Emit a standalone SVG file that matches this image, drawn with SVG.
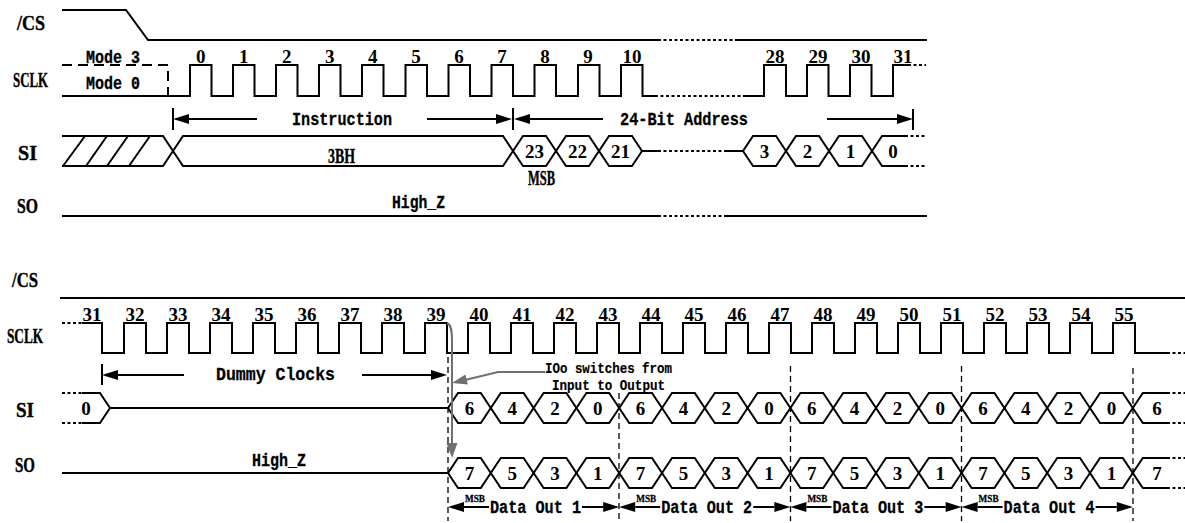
<svg xmlns="http://www.w3.org/2000/svg" xmlns:xlink="http://www.w3.org/1999/xlink" width="1185" height="523" viewBox="0 0 1185 523">
<style>
.w{fill:none;stroke:#000;stroke-width:2;stroke-linejoin:miter}
.dot{fill:none;stroke:#000;stroke-width:2;stroke-dasharray:3 2.5}
.dash{fill:none;stroke:#000;stroke-width:2;stroke-dasharray:10 6}
.vd{fill:none;stroke:#000;stroke-width:1.3;stroke-dasharray:6 4}
.gr{fill:none;stroke:#707070;stroke-width:2}
.lab{font-family:"Liberation Serif",serif;font-weight:bold;font-size:20px;stroke:#000;stroke-width:0.4}
.num{font-family:"Liberation Serif",serif;font-weight:bold;font-size:19px;text-anchor:middle}
.mono{font-family:"Liberation Mono",monospace;font-weight:bold;font-size:19px;stroke:#000;stroke-width:0.3}
.sm{font-family:"Liberation Mono",monospace;font-weight:bold;font-size:15px;stroke:#000;stroke-width:0.2}
.msb{font-family:"Liberation Serif",serif;font-weight:bold;font-size:11px;text-anchor:middle;stroke:#000;stroke-width:0.3}
</style>
<defs>
<path id="aL" d="M0,0 L16,-5 L16,5 Z" fill="#000"/>
<path id="aR" d="M0,0 L-16,-5 L-16,5 Z" fill="#000"/>
<g id="bus">
<polyline class="w" points="448,408 458,393 480.8,393 500.8,423 523.6,423 543.6,393 566.4,393 586.4,423 609.2,423 629.2,393 652,393 672,423 694.8,423 714.8,393 737.6,393 757.6,423 780.4,423 800.4,393 823.2,393 843.2,423 866,423 886,393 908.8,393 928.8,423 951.6,423 971.6,393 994.4,393 1014.4,423 1037.2,423 1057.2,393 1080,393 1100,423 1122.8,423 1142.8,393 1167,393"/>
<polyline class="w" points="448,408 458,423 480.8,423 500.8,393 523.6,393 543.6,423 566.4,423 586.4,393 609.2,393 629.2,423 652,423 672,393 694.8,393 714.8,423 737.6,423 757.6,393 780.4,393 800.4,423 823.2,423 843.2,393 866,393 886,423 908.8,423 928.8,393 951.6,393 971.6,423 994.4,423 1014.4,393 1037.2,393 1057.2,423 1080,423 1100,393 1122.8,393 1142.8,423 1167,423"/>
<path class="dot" d="M1167,393 H1185 M1167,423 H1185"/>
</g>
</defs>

<!-- ===== TOP SECTION ===== -->
<g id="top-labels">
<text class="lab" x="17" y="30" textLength="28" lengthAdjust="spacingAndGlyphs">/CS</text>
<text class="lab" x="13" y="87" textLength="35" lengthAdjust="spacingAndGlyphs">SCLK</text>
<text class="lab" x="18" y="160" textLength="19" lengthAdjust="spacingAndGlyphs">SI</text>
<text class="lab" x="17" y="213" textLength="21" lengthAdjust="spacingAndGlyphs">SO</text>
</g>

<g id="top-cs">
<polyline class="w" points="62,10 126,10 148,40 658,40"/>
<path class="dot" d="M658,40 H735"/>
<path class="w" d="M735,40 H927"/>
</g>

<g id="top-sclk">
<path class="dash" d="M62,65 H168 V96"/>
<path class="w" d="M62,96 H190 V65 H211.5 V96 H233 V65 H254.5 V96 H276 V65 H297.5 V96 H319 V65 H340.5 V96 H362 V65 H383.5 V96 H405.5 V65 H427 V96 H448.5 V65 H470 V96 H491.5 V65 H513 V96 H534.5 V65 H556 V96 H578 V65 H599.5 V96 H621 V65 H642.5 V96 H655"/>
<path class="dot" d="M655,96 H743"/>
<path class="w" d="M743,96 H764 V65 H786 V96 H807 V65 H828.5 V96 H850 V65 H871.5 V96 H893 V65 H908"/>
<path class="dot" d="M908,65 H926"/>
<text class="mono" x="86" y="63" textLength="54" lengthAdjust="spacingAndGlyphs">Mode 3</text>
<text class="mono" x="86" y="89" textLength="54" lengthAdjust="spacingAndGlyphs">Mode 0</text>
<text class="num" x="200.75" y="63">0</text>
<text class="num" x="243.75" y="63">1</text>
<text class="num" x="286.75" y="63">2</text>
<text class="num" x="329.75" y="63">3</text>
<text class="num" x="372.75" y="63">4</text>
<text class="num" x="416" y="63">5</text>
<text class="num" x="459" y="63">6</text>
<text class="num" x="502" y="63">7</text>
<text class="num" x="545" y="63">8</text>
<text class="num" x="588" y="63">9</text>
<text class="num" x="632" y="63">10</text>
<text class="num" x="775" y="63">28</text>
<text class="num" x="818" y="63">29</text>
<text class="num" x="861" y="63">30</text>
<text class="num" x="903" y="63">31</text>
</g>

<g id="top-spans">
<path class="w" d="M173,108 V130 M513,108 V130 M913,109 V130 M189,119 H257 M427,119 H497 M529,119 H603 M827,119 H897"/>
<use xlink:href="#aL" x="173" y="119"/>
<use xlink:href="#aR" x="512" y="119"/>
<use xlink:href="#aL" x="514" y="119"/>
<use xlink:href="#aR" x="913" y="119"/>
<text class="mono" x="292" y="125" textLength="100" lengthAdjust="spacingAndGlyphs">Instruction</text>
<text class="mono" x="620" y="125" textLength="128" lengthAdjust="spacingAndGlyphs">24-Bit Address</text>
</g>

<g id="top-si">
<path class="w" d="M63,166 L85,136 M86,166 L107,136 M107,166 L128,136 M129,166 L150,136"/>
<polyline class="w" points="62,136 163,136 183,166 503,166 523,136 546,136 566,166 589,166 609,136 632,136 642,151 658,151"/>
<polyline class="w" points="62,166 163,166 183,136 503,136 523,166 546,166 566,136 589,136 609,166 632,166 642,151"/>
<path class="dot" d="M658,151 H727"/>
<polyline class="w" points="727,151 743,151 753,136 776,136 796,166 819,166 839,136 862,136 882,166 905,166"/>
<polyline class="w" points="743,151 753,166 776,166 796,136 819,136 839,166 862,166 882,136 905,136"/>
<path class="dot" d="M905,136 H926 M905,166 H926"/>
<text class="lab" x="328" y="163" font-size="19" textLength="27" lengthAdjust="spacingAndGlyphs">3BH</text>
<text class="num" x="534.5" y="158">23</text>
<text class="num" x="577.5" y="158">22</text>
<text class="num" x="620.5" y="158">21</text>
<text class="num" x="764.5" y="158">3</text>
<text class="num" x="807.5" y="158">2</text>
<text class="num" x="850.5" y="158">1</text>
<text class="num" x="893" y="158">0</text>
<text class="lab" x="528" y="185" font-size="16" textLength="27" lengthAdjust="spacingAndGlyphs">MSB</text>
</g>

<g id="top-so">
<path class="w" d="M62,216 H658 M727,216 H927"/>
<path class="dot" d="M658,216 H727"/>
<text class="mono" x="392" y="208" textLength="53" lengthAdjust="spacingAndGlyphs">High_Z</text>
</g>

<!-- ===== BOTTOM SECTION ===== -->
<g id="bot-labels">
<text class="lab" x="12" y="287" textLength="26" lengthAdjust="spacingAndGlyphs">/CS</text>
<text class="lab" x="7" y="343" textLength="36" lengthAdjust="spacingAndGlyphs">SCLK</text>
<text class="lab" x="16" y="417" textLength="18" lengthAdjust="spacingAndGlyphs">SI</text>
<text class="lab" x="15" y="472" textLength="20" lengthAdjust="spacingAndGlyphs">SO</text>
</g>

<g id="bot-cs">
<path class="w" d="M60,298 H1185"/>
</g>

<g id="bot-sclk">
<path class="dot" d="M62,323 H82"/>
<path class="w" d="M82,323 H102 V353 H124 V323 H146 V353 H167 V323 H189 V353 H210 V323 H232 V353 H253 V323 H275 V353 H296 V323 H318 V353 H339 V323 H361 V353 H382 V323 H404 V353 H425 V323 H447 V353 H468 V323 H490 V353 H511 V323 H533 V353 H554 V323 H576 V353 H597 V323 H619 V353 H640 V323 H662 V353 H683 V323 H705 V353 H726 V323 H748 V353 H769 V323 H791 V353 H812 V323 H834 V353 H855 V323 H877 V353 H898 V323 H920 V353 H941 V323 H963 V353 H984 V323 H1006 V353 H1027 V323 H1049 V353 H1070 V323 H1092 V353 H1113 V323 H1135 V353 H1167"/>
<path class="dot" d="M1167,353 H1185"/>
<text class="num" x="92" y="321">31</text>
<text class="num" x="135" y="321">32</text>
<text class="num" x="178" y="321">33</text>
<text class="num" x="221" y="321">34</text>
<text class="num" x="264" y="321">35</text>
<text class="num" x="307" y="321">36</text>
<text class="num" x="350" y="321">37</text>
<text class="num" x="393" y="321">38</text>
<text class="num" x="436" y="321">39</text>
<text class="num" x="479" y="321">40</text>
<text class="num" x="522" y="321">41</text>
<text class="num" x="565" y="321">42</text>
<text class="num" x="608" y="321">43</text>
<text class="num" x="651" y="321">44</text>
<text class="num" x="694" y="321">45</text>
<text class="num" x="737" y="321">46</text>
<text class="num" x="780" y="321">47</text>
<text class="num" x="823" y="321">48</text>
<text class="num" x="866" y="321">49</text>
<text class="num" x="909" y="321">50</text>
<text class="num" x="952" y="321">51</text>
<text class="num" x="995" y="321">52</text>
<text class="num" x="1038" y="321">53</text>
<text class="num" x="1081" y="321">54</text>
<text class="num" x="1124" y="321">55</text>
</g>

<g id="bot-dummy">
<path class="w" d="M102,364 V385 M118,375 H184 M362,375 H431"/>
<use xlink:href="#aL" x="102" y="375"/>
<use xlink:href="#aR" x="447" y="375"/>
<text class="mono" x="216" y="380" textLength="119" lengthAdjust="spacingAndGlyphs">Dummy  Clocks</text>
</g>

<g id="bot-guides">
<path class="vd" d="M448,357 V521 M619,393 V521 M790.5,366 V521 M961.5,366 V521 M1133,368 V521"/>
</g>

<g id="bot-si">
<path class="dot" d="M62,393 H82 M62,423 H82"/>
<polyline class="w" points="82,393 100,393 110,408 448,408"/>
<polyline class="w" points="82,423 100,423 110,408"/>
<use xlink:href="#bus"/>
<text class="num" x="86" y="415">0</text>
<g class="num">
<text x="469.4" y="415">6</text><text x="512.2" y="415">4</text><text x="555" y="415">2</text><text x="597.8" y="415">0</text>
<text x="640.6" y="415">6</text><text x="683.4" y="415">4</text><text x="726.2" y="415">2</text><text x="769" y="415">0</text>
<text x="811.8" y="415">6</text><text x="854.6" y="415">4</text><text x="897.4" y="415">2</text><text x="940.2" y="415">0</text>
<text x="983" y="415">6</text><text x="1025.8" y="415">4</text><text x="1068.6" y="415">2</text><text x="1111.4" y="415">0</text>
<text x="1157" y="415">6</text>
</g>
</g>

<g id="bot-so">
<path class="w" d="M62,473 H448"/>
<use xlink:href="#bus" y="65"/>
<text class="mono" x="252" y="466" textLength="54" lengthAdjust="spacingAndGlyphs">High_Z</text>
<g class="num">
<text x="469.4" y="480">7</text><text x="512.2" y="480">5</text><text x="555" y="480">3</text><text x="597.8" y="480">1</text>
<text x="640.6" y="480">7</text><text x="683.4" y="480">5</text><text x="726.2" y="480">3</text><text x="769" y="480">1</text>
<text x="811.8" y="480">7</text><text x="854.6" y="480">5</text><text x="897.4" y="480">3</text><text x="940.2" y="480">1</text>
<text x="983" y="480">7</text><text x="1025.8" y="480">5</text><text x="1068.6" y="480">3</text><text x="1111.4" y="480">1</text>
<text x="1157" y="480">7</text>
</g>
</g>

<g id="bot-switch-note">
<path class="gr" d="M447,323 C451,325 452,330 452,340 V444"/>
<path d="M446.5,443 L457.5,443 L452,458 Z" fill="#707070"/>
<path class="gr" d="M545,372 H498 L465,380"/>
<path d="M452,383 L467.8,384.4 L465.4,374.6 Z" fill="#707070"/>
<text class="sm" x="545" y="373" textLength="127" lengthAdjust="spacingAndGlyphs">IOo switches from</text>
<text class="sm" x="552" y="390" textLength="113" lengthAdjust="spacingAndGlyphs">Input to Output</text>
</g>

<g id="bot-dataout">
<path class="w" d="M464,507 H489 M582,507 H603.2 M635.2,507 H660.2 M753.2,507 H774.4 M806.4,507 H831.4 M924.4,507 H945.6 M977.6,507 H1002.6 M1095.6,507 H1116.8"/>
<use xlink:href="#aL" x="448" y="507"/>
<use xlink:href="#aR" x="619.2" y="507"/>
<use xlink:href="#aL" x="619.2" y="507"/>
<use xlink:href="#aR" x="790.4" y="507"/>
<use xlink:href="#aL" x="790.4" y="507"/>
<use xlink:href="#aR" x="961.6" y="507"/>
<use xlink:href="#aL" x="961.6" y="507"/>
<use xlink:href="#aR" x="1132.8" y="507"/>
<text class="msb" x="475" y="502" textLength="20" lengthAdjust="spacingAndGlyphs">MSB</text>
<text class="msb" x="646.2" y="502" textLength="20" lengthAdjust="spacingAndGlyphs">MSB</text>
<text class="msb" x="817.4" y="502" textLength="20" lengthAdjust="spacingAndGlyphs">MSB</text>
<text class="msb" x="988.6" y="502" textLength="20" lengthAdjust="spacingAndGlyphs">MSB</text>
<text class="mono" x="490" y="513" textLength="91" lengthAdjust="spacingAndGlyphs">Data Out 1</text>
<text class="mono" x="661.2" y="513" textLength="91" lengthAdjust="spacingAndGlyphs">Data Out 2</text>
<text class="mono" x="832.4" y="513" textLength="91" lengthAdjust="spacingAndGlyphs">Data Out 3</text>
<text class="mono" x="1003.6" y="513" textLength="91" lengthAdjust="spacingAndGlyphs">Data Out 4</text>
</g>
</svg>
